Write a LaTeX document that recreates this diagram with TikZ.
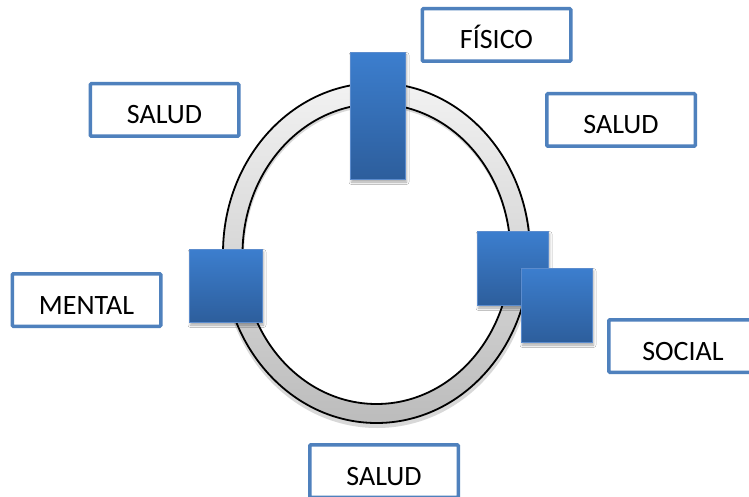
\documentclass[tikz,border=0pt]{standalone}
\usepackage{fontspec}
\setmainfont{Carlito}
\usetikzlibrary{shadows.blur}
\definecolor{boxblue}{RGB}{79,129,189}
\definecolor{bluetop}{RGB}{60,126,206}
\definecolor{bluebot}{RGB}{45,94,156}
\definecolor{blueedge}{RGB}{92,140,205}
\definecolor{ringtop}{RGB}{242,242,242}
\definecolor{ringbot}{RGB}{188,188,188}
\tikzset{
  labelbox/.style={draw=boxblue, line width=3.5pt, fill=white, rounded corners=1pt,
    minimum width=148.5pt, minimum height=52.5pt, inner sep=0pt,
    text height=28pt, text depth=0pt,
    font=\fontsize{28}{30}\selectfont},
  bluebox/.style={draw=blueedge, line width=0.8pt, top color=bluetop, bottom color=bluebot,
    inner sep=0pt,
    blur shadow={shadow xshift=1pt, shadow yshift=-2.5pt, shadow blur radius=2.5pt, shadow opacity=35}},
}
\begin{document}
\begin{tikzpicture}[x=1pt,y=-1pt]
\useasboundingbox (0,0) rectangle (749,497);
\fill[white] (0,0) rectangle (749,497);
% ring shadow
\fill[black!30, opacity=0.5, even odd rule] (377,257) ellipse [x radius=155, y radius=171] (377,256) ellipse [x radius=133, y radius=149];
% ring
\path[draw=black, line width=1.8pt, even odd rule, top color=ringtop, bottom color=ringbot]
  (376.5,253) ellipse [x radius=153.5, y radius=170]
  (376.5,254) ellipse [x radius=134, y radius=150];
% blue rectangles
\node[bluebox, minimum width=55pt, minimum height=127pt] (bt) at (378,116) {};
\node[bluebox, minimum width=73pt, minimum height=73pt] (bl) at (226,286) {};
\node[bluebox, minimum width=71pt, minimum height=74pt] (br1) at (513,268.5) {};
\node[bluebox, minimum width=71pt, minimum height=74pt] (br2) at (557,305.5) {};
% label boxes
\node[labelbox] (fisico) at (496.5,35) {FÍSICO};
\node[labelbox] (saludtl) at (164.5,110) {SALUD};
\node[labelbox] (saludr) at (621,120) {SALUD};
\node[labelbox] (mental) at (86.5,300) {MENTAL};
\node[labelbox] (social) at (683,346) {SOCIAL};
\node[labelbox] (saludb) at (384,471) {SALUD};
\end{tikzpicture}
\end{document}
